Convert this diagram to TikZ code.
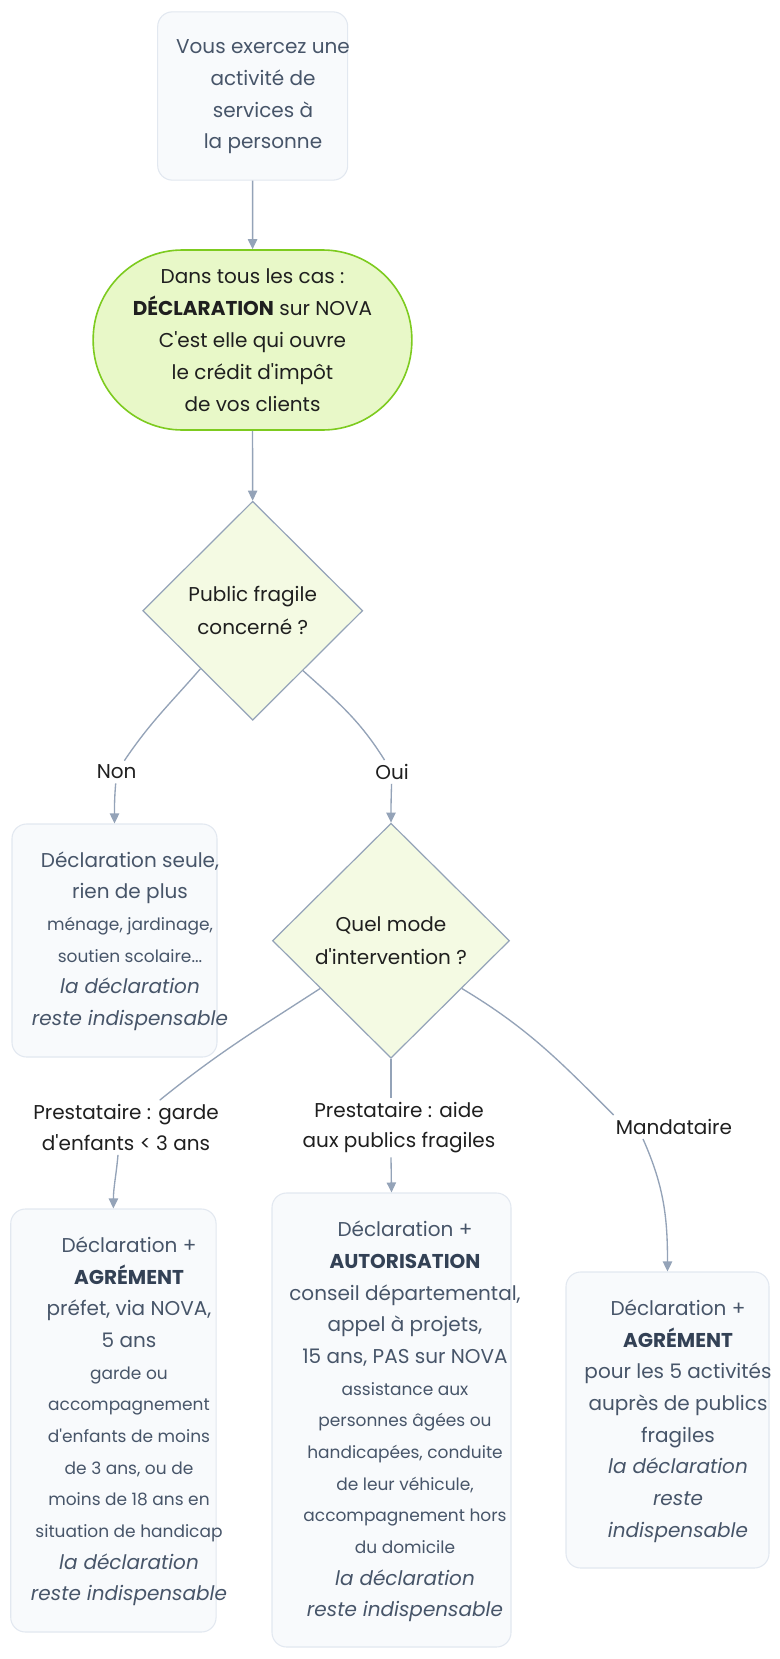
\documentclass[tikz,border=0pt]{standalone}
\usepackage{fontspec}
\setmainfont{Poppins}
\usetikzlibrary{arrows.meta, shapes.geometric, positioning}

\definecolor{boxfill}{HTML}{F8FAFC}
\definecolor{boxline}{HTML}{E2E8F0}
\definecolor{boxtext}{HTML}{475569}
\definecolor{boldtext}{HTML}{334155}
\definecolor{greenfill}{HTML}{E8F8C8}
\definecolor{greenline}{HTML}{7DCB1F}
\definecolor{decfill}{HTML}{F4FAE3}
\definecolor{edgecol}{HTML}{94A3B8}
\definecolor{labeltext}{HTML}{1F1F1F}

\newcommand{\smtxt}{\fontsize{12.75}{24}\selectfont}
\newcommand{\apos}{\textquotesingle}

\begin{document}
\begin{tikzpicture}[x=0.75pt, y=0.75pt,
	box/.style={draw=boxline, fill=boxfill, line width=0.8pt, rounded corners=11pt, inner sep=0pt},
	txt/.style={align=center, text=boxtext, inner sep=0pt, font=\fontsize{15}{23.75}\selectfont},
	green/.style={draw=greenline, fill=greenfill, line width=1.2pt, rounded corners=67pt, align=center, text=labeltext, font=\fontsize{15}{24}\selectfont},
	decision/.style={diamond, draw=edgecol, fill=decfill, line width=0.9pt, inner sep=0pt, align=center, text=labeltext, font=\fontsize{15}{24.5}\selectfont},
	lbl/.style={align=center, text=labeltext, inner sep=3pt, font=\fontsize{15}{23}\selectfont},
	edge/.style={draw=edgecol, line width=1pt},
	arr/.style={edge, -{Triangle[length=7.5pt, width=7pt]}}]

	\fill[white] (0,0) rectangle (780,-1659);
	\useasboundingbox (0,0) rectangle (780,-1659);

	% top of the chart
	\node[box, minimum width=142.5pt, minimum height=126.2pt] (start) at (252.7,-96) {};
	\node[txt] (tstart) at (263,-97) {Vous exercez une\\activité de\\services à\\la personne};

	\node[green, minimum width=239pt, minimum height=135pt] (decl) at (252.5,-340)
		{Dans tous les cas :\\\textbf{DÉCLARATION} sur NOVA\\C\apos est elle qui ouvre\\le crédit d\apos impôt\\de vos clients};

	\node[decision, minimum width=165pt, minimum height=164.25pt] (d1) at (252.7,-610.7) {Public fragile\\concerné ?};

	\draw[arr] (start) -- (decl);
	\draw[arr] (decl) -- (d1);

	% public fragile ?
	\node[lbl] (lnon) at (116.7,-772) {Non};
	\node[lbl] (loui) at (392,-772) {Oui};

	\node[box, minimum width=153.75pt, minimum height=174.75pt] (bnon) at (114.5,-940.5) {};
	\node[txt] (tnon) at (130,-941) {Déclaration seule,\\rien de plus\\{\smtxt ménage, jardinage,}\\{\smtxt soutien scolaire...}\\\textit{la déclaration}\\\textit{reste indispensable}};

	\node[decision, minimum width=177.75pt, minimum height=176.25pt] (d2) at (391,-940.7) {Quel mode\\d\apos intervention ?};

	\draw[edge] (d1.-132) to[out=-131, in=56] (lnon);
	\draw[arr] (lnon) to[out=-95, in=90] (bnon);
	\draw[edge] (d1.-50) to[out=-42, in=122] (loui);
	\draw[arr] (loui) to[out=-92, in=90] (d2);

	% mode d'intervention ?
	\node[lbl] (lgarde) at (126,-1127.5) {Prestataire : garde\\d\apos enfants < 3 ans};
	\node[lbl] (laide) at (399,-1127.5) {Prestataire : aide\\aux publics fragiles};
	\node[lbl] (lman) at (674,-1127) {Mandataire};

	\node[box, minimum width=154pt, minimum height=317.25pt] (bgarde) at (113.4,-1420.5) {};
	\node[txt] (tgarde) at (129,-1421.5) {Déclaration +\\\textbf{\color{boldtext}AGRÉMENT}\\préfet, via NOVA,\\5 ans\\{\smtxt garde ou}\\{\smtxt accompagnement}\\{\smtxt d\apos enfants de moins}\\{\smtxt de 3 ans, ou de}\\{\smtxt moins de 18 ans en}\\{\smtxt situation de handicap}\\\textit{la déclaration}\\\textit{reste indispensable}};

	\node[box, minimum width=179.25pt, minimum height=340.5pt] (bmid) at (391.5,-1420) {};
	\node[txt] (tmid) at (405,-1421.5) {Déclaration +\\\textbf{\color{boldtext}AUTORISATION}\\conseil départemental,\\appel à projets,\\15 ans, PAS sur NOVA\\{\smtxt assistance aux}\\{\smtxt personnes âgées ou}\\{\smtxt handicapées, conduite}\\{\smtxt de leur véhicule,}\\{\smtxt accompagnement hors}\\{\smtxt du domicile}\\\textit{la déclaration}\\\textit{reste indispensable}};

	\node[box, minimum width=152.25pt, minimum height=222pt] (bman) at (667.5,-1420) {};
	\node[txt] (tman) at (678,-1421) {Déclaration +\\\textbf{\color{boldtext}AGRÉMENT}\\pour les 5 activités\\auprès de publics\\fragiles\\\textit{la déclaration}\\\textit{reste}\\\textit{indispensable}};

	\draw[edge] (d2.-146) to[out=-147, in=39] (lgarde);
	\draw[arr] ([shift={(-8,0)}]lgarde.south) to[out=-95, in=90] (bgarde);
	\draw[edge] (d2.south) -- (d2.south |- laide.north);
	\draw[arr] (d2.south |- laide.south) -- (bmid.north);
	\draw[edge] (d2.-34) to[out=-31, in=135] ([shift={(2,0)}]lman.north west);
	\draw[arr] ([shift={(-31,0)}]lman.south) to[out=-66, in=90] (bman);
\end{tikzpicture}
\end{document}
